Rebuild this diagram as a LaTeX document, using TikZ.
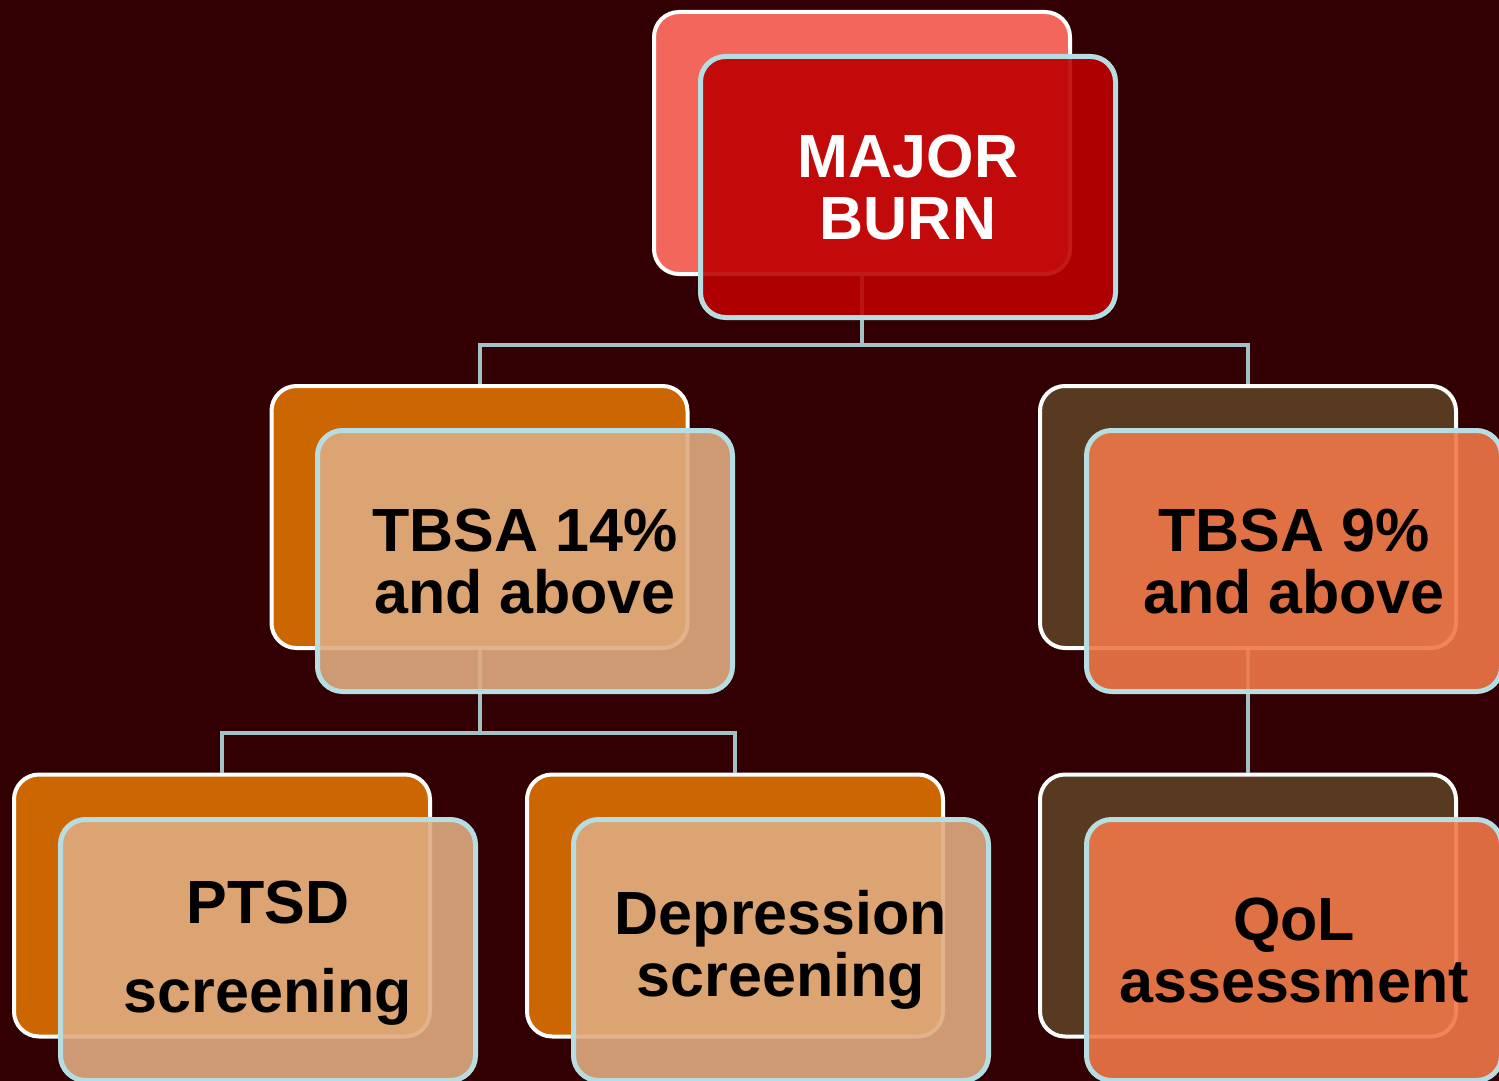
\documentclass[tikz,border=0pt]{standalone}
\usepackage{fontspec}
\setmainfont{Liberation Sans}
\definecolor{bgmaroon}{RGB}{50,0,2}
\definecolor{wirecol}{RGB}{163,194,198}
\definecolor{frameblue}{RGB}{182,222,226}
\definecolor{salmon}{RGB}{242,102,92}
\definecolor{deepred}{RGB}{188,0,0}
\definecolor{burntorange}{RGB}{204,102,0}
\definecolor{tan}{RGB}{222,171,128}
\definecolor{darkbrown}{RGB}{88,58,32}
\definecolor{coral}{RGB}{239,119,74}
\tikzset{
  labelfont/.style={align=center, font=\bfseries\fontsize{61}{62}\selectfont},
  backbox/.style={draw=white, line width=4pt, rounded corners=25pt,
    minimum width=416pt, minimum height=262pt, inner sep=0pt},
  frontbox/.style={draw=frameblue, line width=5pt, rounded corners=25pt,
    fill opacity=0.9, text opacity=1,
    minimum width=415pt, minimum height=261pt, inner sep=0pt, labelfont},
  wire/.style={draw=wirecol, line width=4pt}
}
\begin{document}
\begin{tikzpicture}[x=1pt, y=-1pt]
\fill[bgmaroon] (0,0) rectangle (1499,1081);
\useasboundingbox (0,0) rectangle (1499,1081);

% back panels
\node[backbox, fill=salmon]      (topB)  at (862,143)   {};
\node[backbox, fill=burntorange] (leftB) at (479.5,517) {};
\node[backbox, fill=darkbrown]   (rightB) at (1248,517) {};
\node[backbox, fill=burntorange] (ptsdB) at (222,905.5) {};
\node[backbox, fill=burntorange] (depB)  at (735,905.5) {};
\node[backbox, fill=darkbrown]   (qolB)  at (1248,905.5) {};

% connectors
\coordinate (j1) at (862,345);
\coordinate (j2) at (479.5,733);
\draw[wire] (topB.south) -- (j1);
\draw[wire] (j1) -| (leftB.north);
\draw[wire] (j1) -| (rightB.north);
\draw[wire] (leftB.south) -- (j2);
\draw[wire] (j2) -| (ptsdB.north);
\draw[wire] (j2) -| (depB.north);
\draw[wire] (rightB.south) -- (qolB.north);

% front panels with labels
\node[frontbox, fill=deepred, text=white] (top)   at (908,187)  {MAJOR\\BURN};
\node[frontbox, fill=tan]   (left)  at (525,561)  {TBSA 14\%\\and above};
\node[frontbox, fill=coral] (right) at (1294,561) {TBSA 9\%\\and above};
\node[frontbox, fill=tan]   (ptsd)  at (268,950)  {};
\node[frontbox, fill=tan]   (dep)   at (781,950)  {Depression\\screening};
\node[frontbox, fill=coral] (qol)   at (1294,950) {QoL\\assessment};
% the PTSD label has a wider gap between its two lines
\node[labelfont] (ptsdlabel) at ([yshift=-3pt]ptsd.center) {PTSD\\[27pt]screening};
\end{tikzpicture}
\end{document}
